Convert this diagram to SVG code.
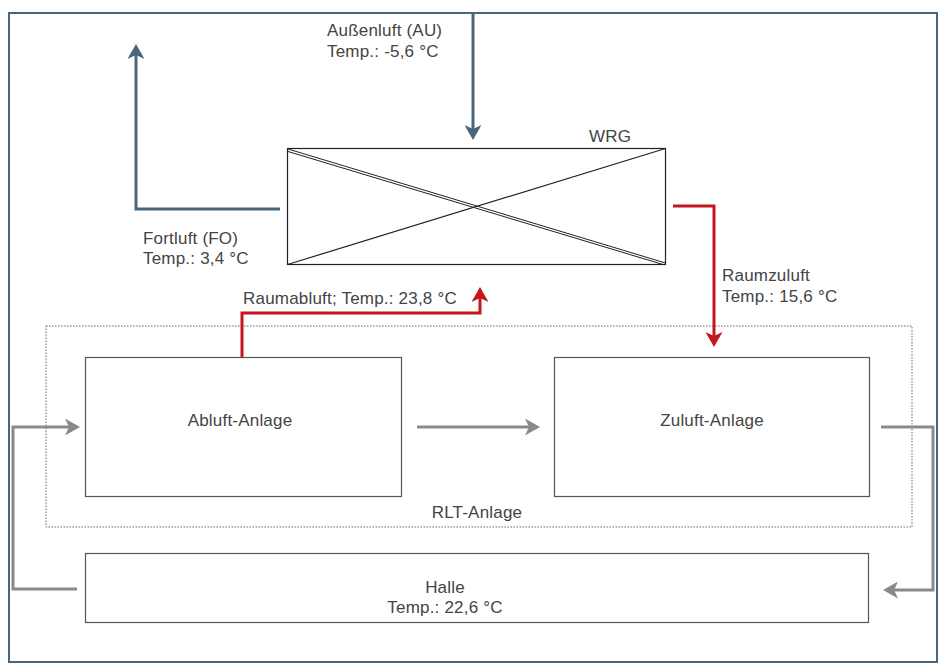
<svg xmlns="http://www.w3.org/2000/svg" width="940" height="666" viewBox="0 0 940 666">
<style>
text{font-family:"Liberation Sans",Arial,sans-serif;font-size:17px;letter-spacing:0.2px;fill:#444}
.box{fill:#fff;stroke:#555;stroke-width:1.2}
.blue{fill:none;stroke:#48677c;stroke-width:3}
.red{fill:none;stroke:#c4161c;stroke-width:3}
.gray{fill:none;stroke:#8a8a8a;stroke-width:3}
.c{text-anchor:middle}
</style>
<defs>
<marker id="ab" markerUnits="userSpaceOnUse" markerWidth="16" markerHeight="17" viewBox="0 0 16 17" refX="4" refY="8.5" orient="auto"><path d="M0,0 L15,8.5 L0,17 L4,8.5 z" fill="#48677c"/></marker>
<marker id="ar" markerUnits="userSpaceOnUse" markerWidth="16" markerHeight="17" viewBox="0 0 16 17" refX="4" refY="8.5" orient="auto"><path d="M0,0 L15,8.5 L0,17 L4,8.5 z" fill="#c4161c"/></marker>
<marker id="ag" markerUnits="userSpaceOnUse" markerWidth="16" markerHeight="17" viewBox="0 0 16 17" refX="4" refY="8.5" orient="auto"><path d="M0,0 L15,8.5 L0,17 L4,8.5 z" fill="#8a8a8a"/></marker>
</defs>
<rect x="9" y="13" width="928" height="649" fill="#fff" stroke="#48677c" stroke-width="2"/>
<g id="rlt">
<rect x="46" y="326" width="866" height="201" fill="none" stroke="#666" stroke-width="1" stroke-dasharray="1.5,1.5"/>
<text class="c" x="477" y="518">RLT-Anlage</text>
</g>
<g id="wrg">
<rect x="287.5" y="148.5" width="378" height="116" fill="#fff" stroke="#222" stroke-width="1.2"/>
<line x1="287.5" y1="264.5" x2="665.5" y2="148.5" stroke="#222" stroke-width="1.2"/>
<line x1="288" y1="149" x2="665.5" y2="263" stroke="#222" stroke-width="1"/>
<line x1="288" y1="151.5" x2="663" y2="264.5" stroke="#222" stroke-width="1"/>
<text class="c" x="610" y="142">WRG</text>
</g>
<g id="abluft">
<rect class="box" x="85.5" y="357.5" width="316" height="139"/>
<text class="c" x="240" y="426">Abluft-Anlage</text>
</g>
<g id="zuluft">
<rect class="box" x="554.5" y="357.5" width="315" height="139"/>
<text class="c" x="712" y="426">Zuluft-Anlage</text>
</g>
<g id="halle">
<rect class="box" x="85.5" y="553.5" width="783" height="69"/>
<text class="c" x="445" y="593">Halle</text>
<text class="c" x="445" y="613">Temp.: 22,6 °C</text>
</g>
<g id="connectors">
<path class="blue" d="M473,13 V129" marker-end="url(#ab)"/>
<path class="blue" d="M280,209 H136 V55" marker-end="url(#ab)"/>
<path class="red" d="M673,206 H714 V336" marker-end="url(#ar)"/>
<path class="red" d="M242,357 V313 H480 V298" marker-end="url(#ar)"/>
<path class="gray" d="M77,589 H13 V427 H69" marker-end="url(#ag)"/>
<path class="gray" d="M417,427 H529" marker-end="url(#ag)"/>
<path class="gray" d="M881,427 H933 V590 H894" marker-end="url(#ag)"/>
</g>
<g id="labels">
<text x="327" y="36">Außenluft (AU)</text>
<text x="327" y="57">Temp.: -5,6 °C</text>
<text x="143" y="244">Fortluft (FO)</text>
<text x="143" y="264">Temp.: 3,4 °C</text>
<text x="722" y="281">Raumzuluft</text>
<text x="722" y="302">Temp.: 15,6 °C</text>
<text x="243" y="304">Raumabluft; Temp.: 23,8 °C</text>
</g>
</svg>
